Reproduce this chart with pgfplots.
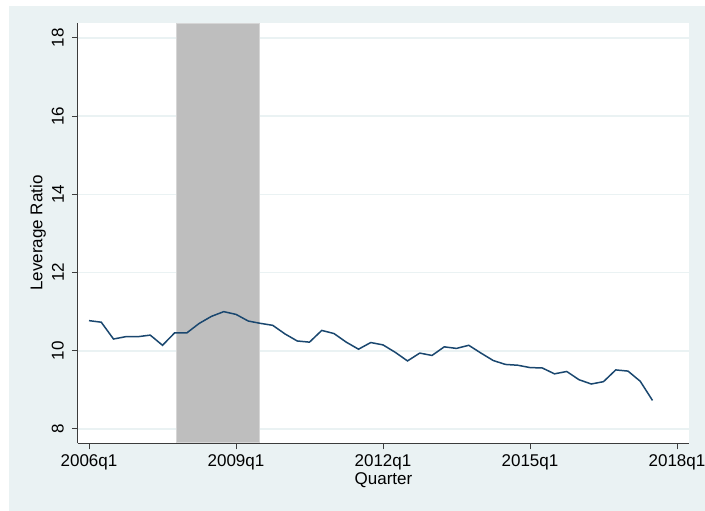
\documentclass[border=0pt]{standalone}
\usepackage{pgfplots}
\pgfplotsset{compat=1.18}
\usepackage{fontspec}
\setmainfont{Liberation Sans}
\definecolor{bgc}{RGB}{234,242,243}
\definecolor{gridc}{RGB}{234,242,243}
\definecolor{navy}{RGB}{26,71,111}
\definecolor{shade}{RGB}{190,190,190}
\definecolor{shadeb}{RGB}{214,214,214}
\definecolor{axc}{RGB}{60,60,60}
\begin{document}
\begin{tikzpicture}[x=1pt,y=1pt]
\fill[white] (0,0) rectangle (705,511);
\fill[bgc] (9,0) rectangle (705,505);
\begin{axis}[
  at={(78pt,67.7pt)}, anchor=south west,
  scale only axis, width=611pt, height=420.3pt,
  xmin=-0.898, xmax=48.98, ymin=7.634, ymax=18.38,
  axis background/.style={fill=white},
  axis x line*=bottom, axis y line*=left,
  axis line style={axc, line width=1pt},
  xtick={0,12,24,36,48},
  xticklabels={2006q1,2009q1,2012q1,2015q1,2018q1},
  ytick={8,10,12,14,16,18},
  tick style={axc, line width=1pt},
  tick align=outside, major tick length=6pt,
  ymajorgrids, major grid style={gridc, line width=1.6pt},
  font=\fontsize{17}{20}\selectfont,
  yticklabel style={xshift=-8pt, rotate=90, anchor=south, inner sep=0pt},
  xticklabel style={anchor=north, inner sep=0pt, yshift=-5pt},
  /pgf/number format/assume math mode=true,
  xlabel={Quarter}, ylabel={Leverage Ratio},
  xlabel style={at={(axis description cs:0.5,0)}, anchor=north, yshift=-29pt, inner sep=0pt},
  ylabel style={at={(axis description cs:0,0.5)}, anchor=south, rotate=0, yshift=32pt, inner sep=0pt},
  clip=false,
]
\addplot[fill=shade, draw=shadeb, line width=0.8pt] coordinates {(7.1,7.66) (13.93,7.66) (13.93,18.38) (7.1,18.38)} -- cycle;
\addplot[navy, line width=1.5pt, mark=none] table {
t y
0 10.77
1 10.73
2 10.30
3 10.36
4 10.36
5 10.40
6 10.14
7 10.46
8 10.46
9 10.70
10 10.88
11 11.00
12 10.93
13 10.76
14 10.70
15 10.65
16 10.43
17 10.25
18 10.22
19 10.52
20 10.44
21 10.22
22 10.04
23 10.21
24 10.15
25 9.96
26 9.74
27 9.94
28 9.88
29 10.10
30 10.06
31 10.14
32 9.94
33 9.75
34 9.65
35 9.63
36 9.57
37 9.56
38 9.41
39 9.47
40 9.26
41 9.15
42 9.21
43 9.51
44 9.48
45 9.22
46 8.73
};
\end{axis}
\pgfresetboundingbox
\path[use as bounding box] (0,0) rectangle (705,511);
\end{tikzpicture}
\end{document}
